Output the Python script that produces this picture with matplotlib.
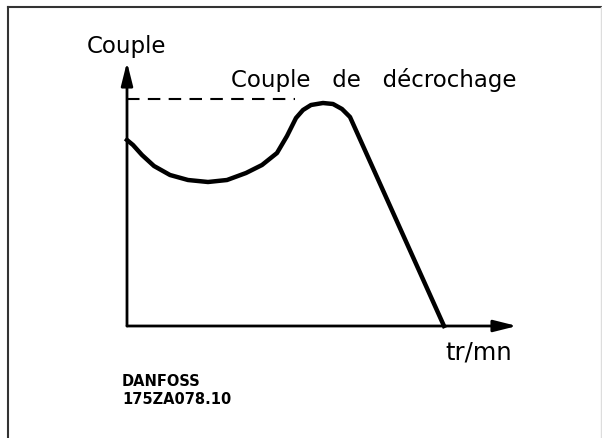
import matplotlib.pyplot as plt
from matplotlib.lines import Line2D

# courbe couple / vitesse (unités arbitraires, origine au coin des axes)
vitesse = [0, 6, 15, 27, 43, 61, 81, 100, 119, 135, 150, 160, 169, 176, 184, 196, 206, 215, 223, 317]
couple = [186, 181, 171, 160, 151, 146, 144, 146, 153, 161, 173, 190, 208, 216, 221, 223, 222, 217, 209, 0]
couple_decrochage = 227
fin_pointilles = 168

W, H = 602, 438
fig = plt.figure(figsize=(W / 100, H / 100), dpi=100)

# cadre : haut et gauche sombres, bord droit gris clair
fig.lines.append(Line2D([8 / W, 8 / W], [0, 1 - 7 / H], transform=fig.transFigure, color="#333333", lw=1.5))
fig.lines.append(Line2D([8 / W, 601 / W], [1 - 7 / H, 1 - 7 / H], transform=fig.transFigure, color="#333333", lw=1.5))
fig.lines.append(Line2D([601 / W, 601 / W], [0, 1 - 7 / H], transform=fig.transFigure, color="#dddddd", lw=1))

x0, y0 = 127, 326
ax = fig.add_axes([x0 / W, (H - y0) / H, (517 - x0) / W, (y0 - 62) / H])
ax.set_xlim(0, 517 - x0)
ax.set_ylim(0, y0 - 62)
ax.axis("off")

# axes avec flèches
ax.annotate("", xy=(1, 0), xytext=(0, 0), xycoords="axes fraction",
            arrowprops=dict(arrowstyle="-|>,head_length=1.4,head_width=0.35", color="black", lw=2, shrinkA=0, shrinkB=0))
ax.annotate("", xy=(0, 1), xytext=(0, 0), xycoords="axes fraction",
            arrowprops=dict(arrowstyle="-|>,head_length=1.4,head_width=0.35", color="black", lw=2, shrinkA=0, shrinkB=0))

ax.plot([0, fin_pointilles], [couple_decrochage, couple_decrochage], color="black", lw=1.5,
        dashes=(6, 4), solid_capstyle="butt")
ax.plot(vitesse, couple, color="black", lw=3.2, solid_joinstyle="round", clip_on=False)

fs = 16.5
fig.text(87 / W, 1 - 47 / H, "Couple", fontsize=fs, va="center", ha="left")
fig.text(231 / W, 1 - 80 / H, "Couple   de   décrochage", fontsize=fs, va="center", ha="left")
fig.text(445 / W, 1 - 353 / H, "tr/mn", fontsize=fs + 1, va="center", ha="left")
fig.text(122 / W, 1 - 382 / H, "DANFOSS", fontsize=10.5, fontweight="bold", va="center", ha="left")
fig.text(122 / W, 1 - 400 / H, "175ZA078.10", fontsize=10.5, fontweight="bold", va="center", ha="left")

fig.savefig("out.png", dpi=100)
